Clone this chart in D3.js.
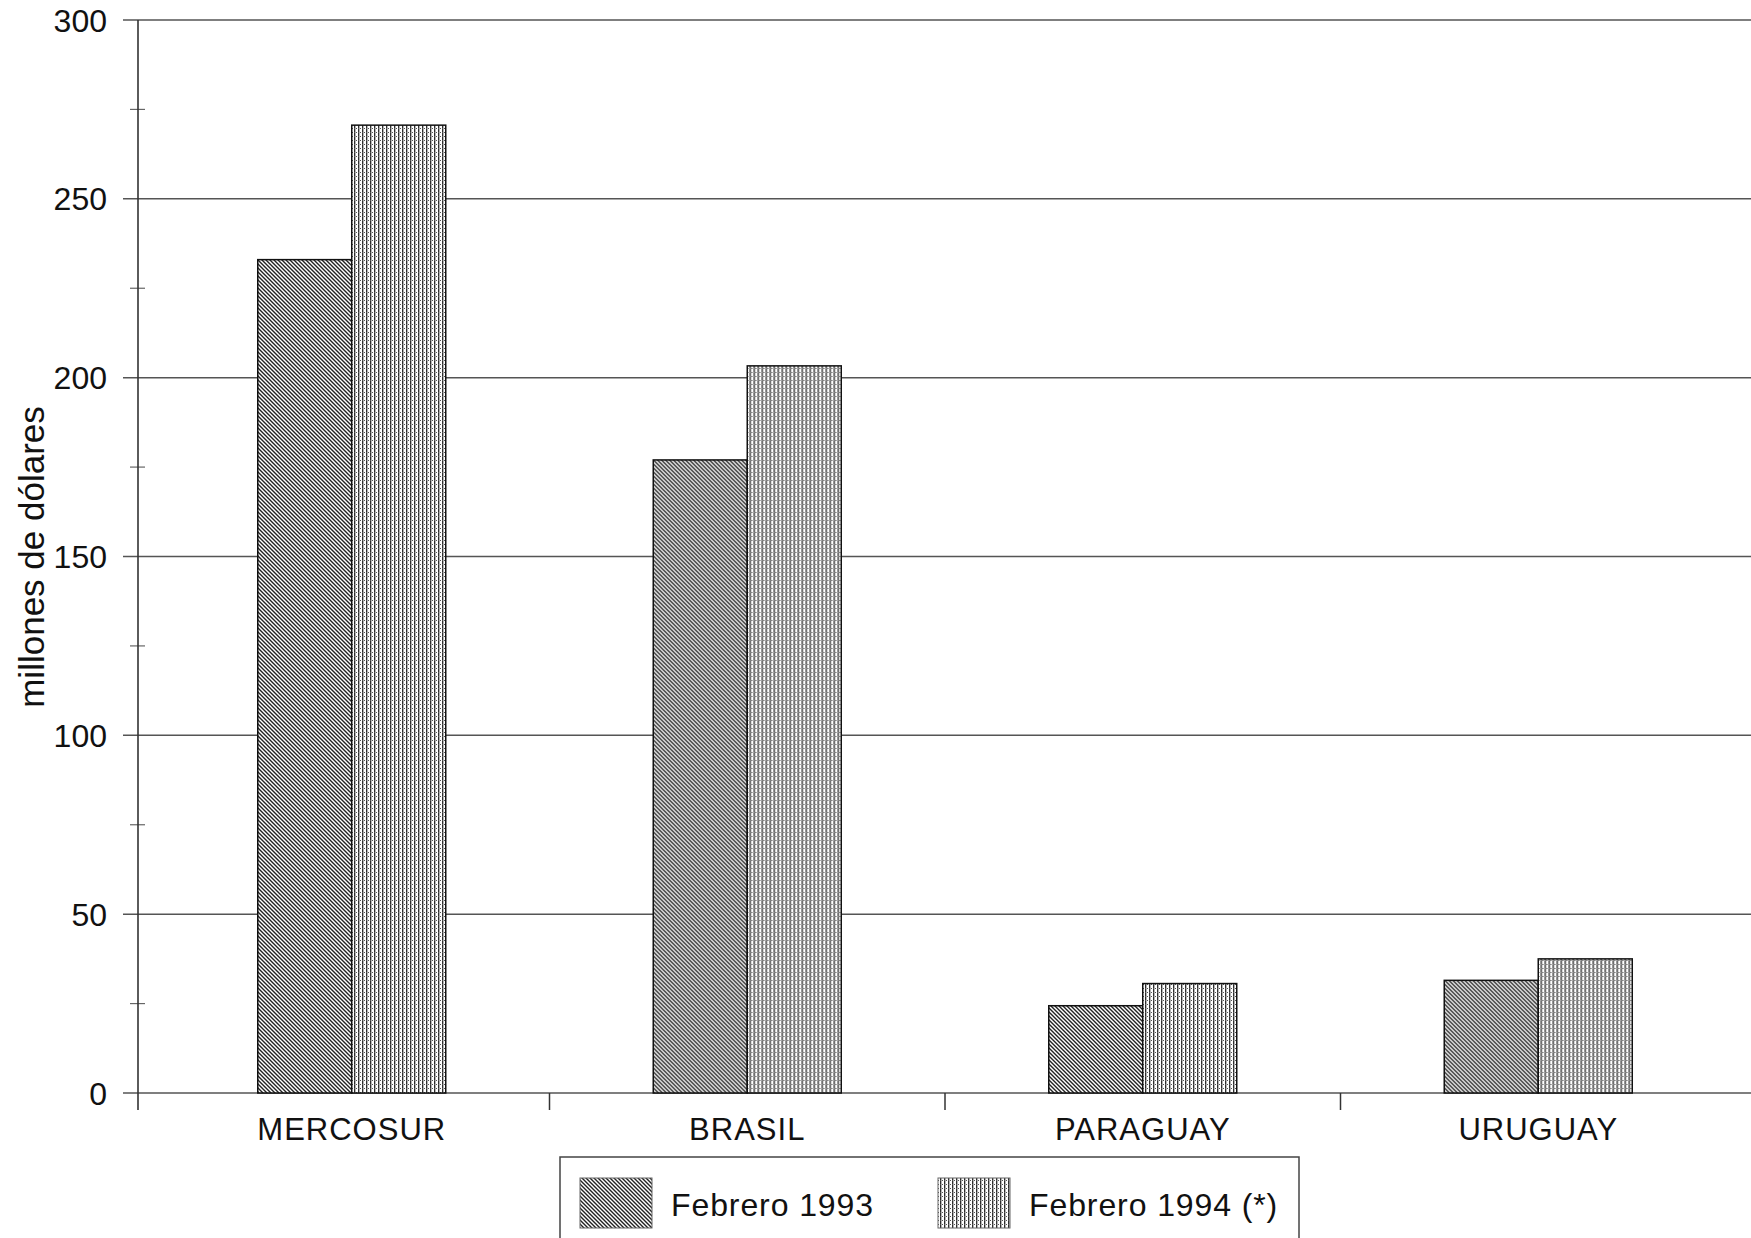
<!DOCTYPE html>
<html>
<head>
<meta charset="utf-8">
<script src="https://cdnjs.cloudflare.com/ajax/libs/d3/7.8.5/d3.min.js"></script>
<style>
  body { margin: 0; background: #ffffff; }
  text { font-family: "Liberation Sans", Arial, sans-serif; fill: #111; }
</style>
</head>
<body>
<div id="chart"></div>
<script>
// data
const categories = ["MERCOSUR", "BRASIL", "PARAGUAY", "URUGUAY"];
const seriesNames = ["Febrero 1993", "Febrero 1994 (*)"];
const feb1993 = [233, 177, 24.4, 31.5];
const feb1994 = [270.6, 203.3, 30.6, 37.5];
const yTicks = [0, 50, 100, 150, 200, 250, 300];
const yMinorTicks = [25, 75, 125, 175, 225, 275];
const yLabel = "millones de dólares";

const W = 1751, H = 1238;
const axisX = 138;
const plotTop = 20, plotBottom = 1093;

const svg = d3.select("#chart")
    .append("svg")
    .attr("width", W)
    .attr("height", H);

// patterns for the two series
const defs = svg.append("defs");

const hatch = defs.append("pattern")
    .attr("id", "hatch")
    .attr("patternUnits", "userSpaceOnUse")
    .attr("width", 4)
    .attr("height", 4);
hatch.append("rect").attr("width", 4).attr("height", 4).attr("fill", "#fff");
hatch.append("path")
    .attr("d", "M0,0L4,4M-1,3L1,5M3,-1L5,1")
    .attr("stroke", "#222")
    .attr("stroke-width", 1.4);

const grid = defs.append("pattern")
    .attr("id", "grid")
    .attr("patternUnits", "userSpaceOnUse")
    .attr("width", 4)
    .attr("height", 4);
grid.append("rect").attr("width", 4).attr("height", 4).attr("fill", "#fff");
grid.append("line")
    .attr("x1", 0.7).attr("x2", 0.7).attr("y1", 0).attr("y2", 4)
    .attr("stroke", "#222").attr("stroke-width", 1.3);
grid.append("line")
    .attr("x1", 0).attr("x2", 4).attr("y1", 0.5).attr("y2", 0.5)
    .attr("stroke", "#555").attr("stroke-width", 1).attr("stroke-dasharray", "1,1");

const fills = ["url(#hatch)", "url(#grid)"];

// scales
const y = d3.scaleLinear()
    .domain([0, 300])
    .range([plotBottom, plotTop]);

const x0 = d3.scaleBand()
    .domain(categories)
    .range([154, 1736])
    .padding(0);

const x1 = d3.scaleBand()
    .domain(seriesNames)
    .range([x0.bandwidth() / 2 - 94, x0.bandwidth() / 2 + 94]);

// gridlines
svg.append("g")
    .selectAll("line")
    .data(yTicks)
    .enter()
    .append("line")
    .attr("x1", 123)
    .attr("x2", W)
    .attr("y1", (d) => y(d))
    .attr("y2", (d) => y(d))
    .attr("stroke", "#555")
    .attr("stroke-width", 1.5);

// minor ticks on value axis
svg.append("g")
    .selectAll("line")
    .data(yMinorTicks)
    .enter()
    .append("line")
    .attr("x1", axisX - 8)
    .attr("x2", axisX + 7)
    .attr("y1", (d) => y(d))
    .attr("y2", (d) => y(d))
    .attr("stroke", "#666")
    .attr("stroke-width", 1.2);

// value axis line
svg.append("line")
    .attr("x1", axisX).attr("x2", axisX)
    .attr("y1", y(300)).attr("y2", plotBottom + 17)
    .attr("stroke", "#333")
    .attr("stroke-width", 1.6);

// category ticks between groups
svg.append("g")
    .selectAll("line")
    .data(categories.slice(1))
    .enter()
    .append("line")
    .attr("x1", (d) => x0(d))
    .attr("x2", (d) => x0(d))
    .attr("y1", plotBottom)
    .attr("y2", plotBottom + 17)
    .attr("stroke", "#333")
    .attr("stroke-width", 1.5);

// bars
const rows = categories.map((c, i) => ({ cat: c, vals: [feb1993[i], feb1994[i]] }));
const groups = svg.append("g")
    .selectAll("g")
    .data(rows)
    .enter()
    .append("g")
    .attr("transform", (d) => `translate(${x0(d.cat)},0)`);

groups.selectAll("rect")
    .data((d) => d.vals.map((v, j) => ({ s: seriesNames[j], v: v, j: j })))
    .enter()
    .append("rect")
    .attr("x", (d) => x1(d.s))
    .attr("y", (d) => y(d.v))
    .attr("width", x1.bandwidth())
    .attr("height", (d) => plotBottom - y(d.v))
    .attr("fill", (d) => fills[d.j])
    .attr("stroke", "#111")
    .attr("stroke-width", 1.5);

// y tick labels
svg.append("g")
    .selectAll("text")
    .data(yTicks)
    .enter()
    .append("text")
    .attr("x", 107)
    .attr("y", (d) => y(d))
    .attr("dy", "0.36em")
    .attr("text-anchor", "end")
    .style("font-size", "32px")
    .text((d) => d);

// category labels
svg.append("g")
    .selectAll("text")
    .data(categories)
    .enter()
    .append("text")
    .attr("x", (d) => x0(d) + x0.bandwidth() / 2)
    .attr("y", 1140)
    .attr("text-anchor", "middle")
    .style("font-size", "31px")
    .style("letter-spacing", "1px")
    .text((d) => d);

// y axis title
svg.append("text")
    .attr("transform", "translate(44,557) rotate(-90)")
    .attr("text-anchor", "middle")
    .style("font-size", "35px")
    .text(yLabel);

// legend
const legend = svg.append("g");
legend.append("rect")
    .attr("x", 560).attr("y", 1157)
    .attr("width", 739).attr("height", 120)
    .attr("fill", "#fff")
    .attr("stroke", "#444")
    .attr("stroke-width", 1.5);

const legendX = [580, 938];
seriesNames.forEach((s, i) => {
    legend.append("rect")
        .attr("x", legendX[i]).attr("y", 1178)
        .attr("width", 72).attr("height", 50)
        .attr("fill", fills[i])
        .attr("stroke", "#666")
        .attr("stroke-width", 1);
    legend.append("text")
        .attr("x", legendX[i] + 91)
        .attr("y", 1216)
        .style("font-size", "32px")
        .style("letter-spacing", "0.9px")
        .text(s);
});
</script>
</body>
</html>
